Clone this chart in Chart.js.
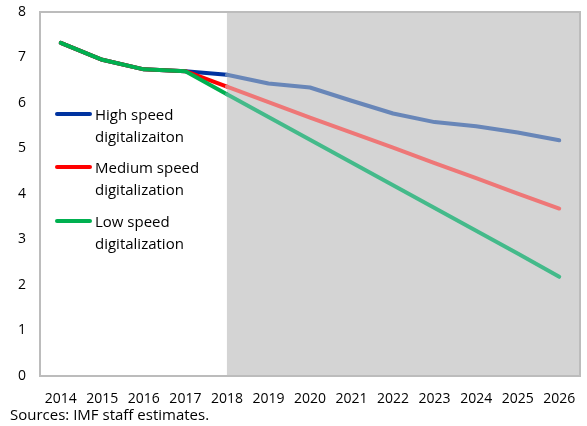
<!DOCTYPE html>
<html>
<head>
<meta charset="utf-8">
<script src="https://cdn.jsdelivr.net/npm/chart.js@4/dist/chart.umd.min.js"></script>
<style>
  body { margin: 0; background: #fff; font-family: 'Open Sans', sans-serif; }
  #wrap { position: relative; width: 587px; height: 426px; }
  .leg { position: absolute; left: 55px; font-size: 15px; line-height: 22px; color: #000; }
  .leg .sw { position: absolute; left: 0; top: 9px; width: 37px; height: 4px; border-radius: 2px; }
  .leg .tx { margin-left: 40px; white-space: nowrap; }
  #src { position: absolute; left: 10px; top: 404px; font-size: 15px; color: #000; }
</style>
</head>
<body>
<div id="wrap">
  <canvas id="chart" width="587" height="426"></canvas>
  <div id="legend"></div>
  <div id="src">Sources: IMF staff estimates.</div>
</div>
<script>
const years = ['2014', '2015', '2016', '2017', '2018', '2019', '2020', '2021', '2022', '2023', '2024', '2025', '2026'];
const highSpeed   = [7.32, 6.95, 6.74, 6.70, 6.62, 6.43, 6.34, 6.05, 5.77, 5.58, 5.49, 5.35, 5.18];
const mediumSpeed = [7.32, 6.95, 6.74, 6.70, 6.36, 6.02, 5.68, 5.35, 5.02, 4.68, 4.35, 4.01, 3.68];
const lowSpeed    = [7.32, 6.95, 6.74, 6.70, 6.19, 5.69, 5.19, 4.69, 4.19, 3.69, 3.19, 2.69, 2.18];
const yTicks = [0, 1, 2, 3, 4, 5, 6, 7, 8];
const projStart = '2018';

const series = [
  { label: ['High speed', 'digitalizaiton'], data: highSpeed, color: '#0033a0', light: '#6886b8', order: 2, top: 103 },
  { label: ['Medium speed', 'digitalization'], data: mediumSpeed, color: '#ff0000', light: '#ee7777', order: 1, top: 156 },
  { label: ['Low speed', 'digitalization'], data: lowSpeed, color: '#00b050', light: '#44ba8a', order: 0, top: 210 }
];

// shaded projection area + plot frame
const frame = {
  id: 'frame',
  beforeDatasetsDraw(chart) {
    const { ctx, chartArea: a, scales: { x } } = chart;
    const x0 = x.getPixelForValue(years.indexOf(projStart));
    ctx.save();
    ctx.fillStyle = '#d4d4d4';
    ctx.fillRect(x0, a.top, a.right - x0, a.bottom - a.top);
    ctx.restore();
  },
  afterDatasetsDraw(chart) {
    const { ctx, chartArea: a } = chart;
    ctx.save();
    ctx.strokeStyle = '#bcbcbc';
    ctx.lineWidth = 2;
    ctx.strokeRect(a.left, a.top, a.right - a.left, a.bottom - a.top);
    ctx.restore();
  }
};

new Chart(document.getElementById('chart'), {
  type: 'line',
  data: {
    labels: years,
    datasets: series.map(s => ({
      label: s.label.join(' '),
      data: s.data,
      order: s.order,
      borderColor: s.color,
      borderWidth: 4,
      borderCapStyle: 'round',
      borderJoinStyle: 'round',
      pointRadius: 0,
      tension: 0,
      segment: {
        borderColor: c => c.p0DataIndex >= years.indexOf(projStart) ? s.light : s.color
      }
    }))
  },
  options: {
    responsive: false,
    animation: false,
    layout: { padding: { top: 12, right: 7, left: 0, bottom: 0 } },
    plugins: { legend: { display: false }, tooltip: { enabled: false } },
    scales: {
      x: {
        offset: true,
        grid: { display: false, drawTicks: false },
        border: { display: false },
        ticks: { color: '#000', font: { family: 'Open Sans', size: 14 }, padding: 15, maxRotation: 0, autoSkip: false },
        afterFit: s => { s.height = 50; s.paddingLeft = 0; s.paddingRight = 0; }
      },
      y: {
        min: 0,
        max: 8,
        afterBuildTicks: s => { s.ticks = yTicks.map(v => ({ value: v })); },
        grid: { display: false, drawTicks: false },
        border: { display: false },
        ticks: { color: '#000', font: { family: 'Open Sans', size: 14 }, padding: 14 },
        afterFit: s => { s.width = 40; s.paddingTop = 0; s.paddingBottom = 0; }
      }
    }
  },
  plugins: [frame]
});

const legend = document.getElementById('legend');
series.forEach(s => {
  const d = document.createElement('div');
  d.className = 'leg';
  d.style.top = s.top + 'px';
  d.innerHTML = '<span class="sw" style="background:' + s.color + '"></span><div class="tx">' + s.label.join('<br>') + '</div>';
  legend.appendChild(d);
});
</script>
</body>
</html>
